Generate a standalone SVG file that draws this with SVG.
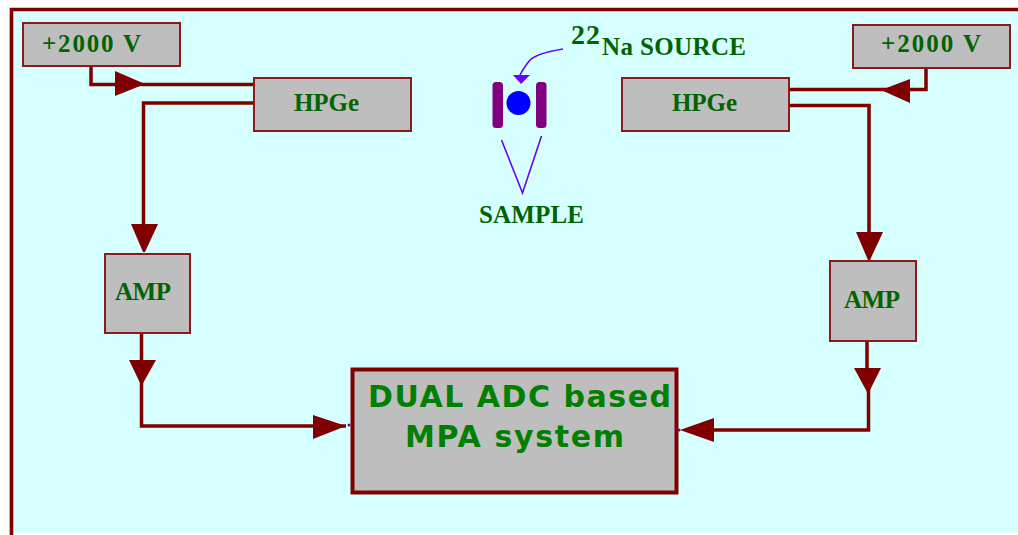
<svg xmlns="http://www.w3.org/2000/svg" width="1018" height="535" viewBox="0 0 1018 535">
<style>
.box{fill:#bebebe;stroke:#8b1a1a;stroke-width:2}
.big{fill:#bebebe;stroke:#800000;stroke-width:4}
.lbl{font-family:"Liberation Serif","Times New Roman",serif;font-weight:bold;fill:#006400}
.s25{font-size:25px}
.bigt{font-family:"DejaVu Sans","Liberation Sans",sans-serif;font-weight:bold;font-size:30px;fill:#008000}
.wire{fill:none;stroke:#800000;stroke-width:3.5}
.head{fill:#800000}
.vio{fill:none;stroke:#6600ff;stroke-width:1.6}
</style>
<rect x="0" y="0" width="1018" height="535" fill="#ffffff"/>
<rect x="9" y="8" width="1009" height="525" fill="#d6ffff"/>
<path d="M1018 9.500H11.500V535" fill="none" stroke="#800000" stroke-width="3.600"/>
<g id="connectors">
<path class="wire" d="M91 66V84.500H253"/>
<path class="head" d="M115 71L145 84L115 96Z"/>
<path class="wire" d="M253 103H143.500V228"/>
<path class="head" d="M131 224H158L145 252H143Z"/>
<path class="wire" d="M141.500 333V426H346"/>
<path class="head" d="M129 360H156L142 385H141Z"/>
<path class="head" d="M313 415L346 426L313 439Z"/>
<path class="wire" d="M926 68V89.500H789"/>
<path class="head" d="M910 79L881 90L910 103Z"/>
<path class="wire" d="M789 105.500H869V236"/>
<path class="head" d="M856 232H883L870 260H868Z"/>
<path class="wire" d="M867 342V368M868.500 368V430H710"/>
<path class="head" d="M854 368H881L869 392H867Z"/>
<path class="head" d="M714 418L680 430L714 442Z"/>
</g>
<g id="vlt-left"><rect class="box" x="23" y="23" width="157" height="43"/><text class="lbl s25" x="42" y="52" textLength="99">+2000 V</text></g>
<g id="hpge-left"><rect class="box" x="254" y="78" width="157" height="53"/><text class="lbl s25" x="294" y="111" textLength="65">HPGe</text></g>
<g id="amp-left"><rect class="box" x="105" y="254" width="85" height="79"/><text class="lbl s25" x="115" y="300" textLength="56">AMP</text></g>
<g id="vlt-right"><rect class="box" x="853" y="25" width="157" height="43"/><text class="lbl s25" x="881" y="52" textLength="100">+2000 V</text></g>
<g id="hpge-right"><rect class="box" x="622" y="78" width="167" height="53"/><text class="lbl s25" x="672" y="111" textLength="65">HPGe</text></g>
<g id="amp-right"><rect class="box" x="830" y="261" width="86" height="80"/><text class="lbl s25" x="844" y="308" textLength="56">AMP</text></g>
<g id="mpa"><rect class="big" x="352.500" y="369.500" width="324" height="123"/>
<text class="bigt" x="368" y="407" textLength="303">DUAL ADC based</text>
<text class="bigt" x="405" y="447" textLength="219">MPA system</text>
<circle cx="349" cy="425" r="1.500" fill="#800080"/><circle cx="679" cy="430" r="1.500" fill="#800080"/></g>
<g id="sample">
<rect x="492.500" y="82" width="10.500" height="46" rx="3.500" fill="#800080"/>
<rect x="536" y="82" width="10.500" height="46" rx="3.500" fill="#800080"/>
<circle cx="518.500" cy="103" r="12" fill="#0000ff"/>
<path class="vio" d="M501.500 140L522.500 193L541.500 136"/>
<path class="vio" d="M563 49C545 52 534 56 530 60C526 65 523 69 520 75"/>
<path d="M513 75H530L521 84Z" fill="#6600ff"/>
<text class="lbl" x="571" y="44" font-size="28" textLength="29">22</text>
<text class="lbl s25" x="602" y="55" textLength="144">Na SOURCE</text>
<text class="lbl s25" x="479" y="223" textLength="105">SAMPLE</text>
</g>
</svg>
